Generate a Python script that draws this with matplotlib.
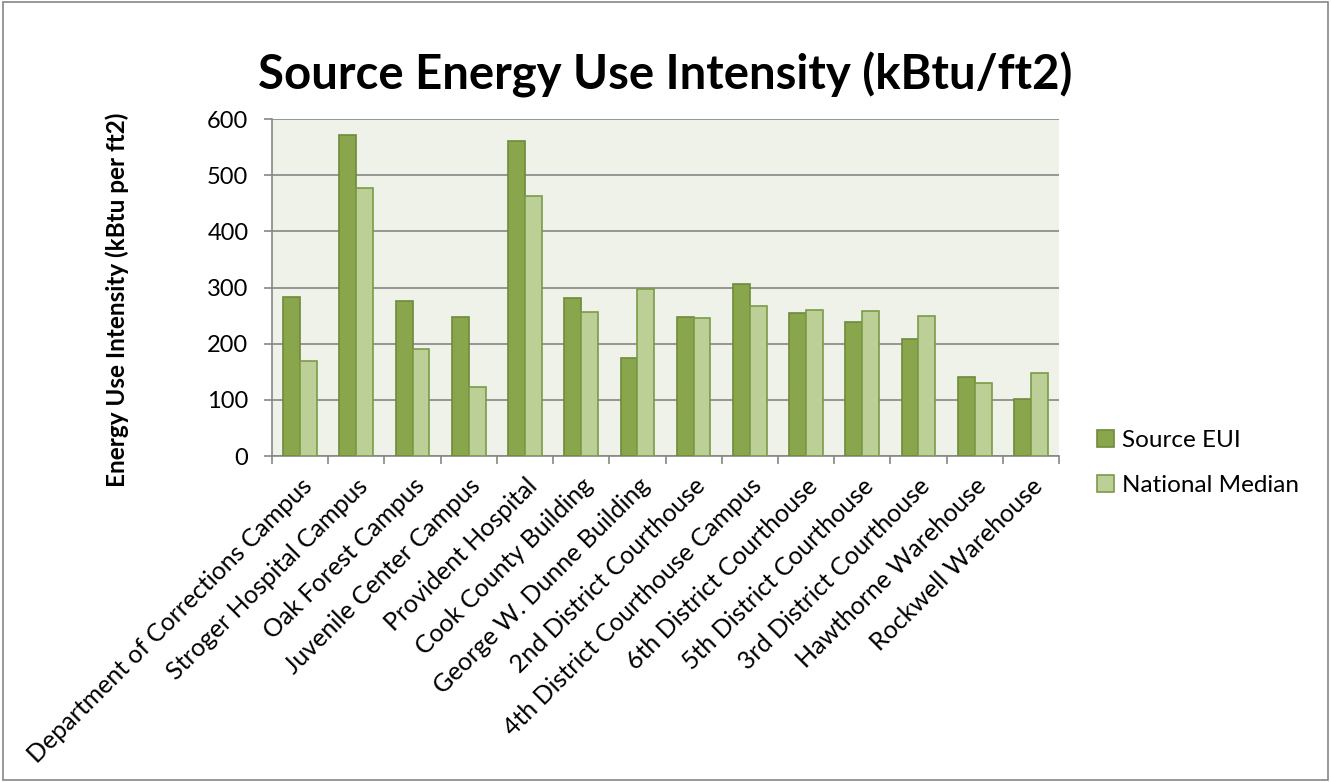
import matplotlib.pyplot as plt
import numpy as np
from matplotlib.patches import Rectangle
from matplotlib.transforms import ScaledTranslation

buildings = ["Department of Corrections Campus", "Stroger Hospital Campus",
             "Oak Forest Campus", "Juvenile Center Campus", "Provident Hospital",
             "Cook County Building", "George W. Dunne Building",
             "2nd District Courthouse", "4th District Courthouse Campus",
             "6th District Courthouse", "5th District Courthouse",
             "3rd District Courthouse", "Hawthorne Warehouse", "Rockwell Warehouse"]
source_eui = [283, 571, 276, 247, 561, 282, 175, 247, 307, 254, 238, 208, 140, 102]
national_median = [170, 478, 191, 123, 463, 257, 298, 246, 267, 260, 259, 250, 130, 147]

plt.rcParams['font.family'] = ['Lato', 'DejaVu Sans']

fig = plt.figure(figsize=(13.31, 7.82), dpi=100)
ax = fig.add_axes([272/1331, 1-456/782, (1059-272)/1331, (456-119)/782])

x = np.arange(len(buildings))
w = 0.3
ax.bar(x - w/2, source_eui, w, color="#8aa64c", edgecolor="#6f8a3a", linewidth=1.2,
       label="Source EUI", zorder=3)
ax.bar(x + w/2, national_median, w, color="#bccf97", edgecolor="#7b9b48", linewidth=1.2,
       label="National Median", zorder=3)

ax.set_facecolor("#eef2e8")
ax.set_xlim(-0.5, len(buildings) - 0.5)
ax.set_ylim(0, 600)
ax.set_yticks(range(0, 601, 100))
ax.yaxis.grid(True, color="#868686", linewidth=1.2, zorder=0)
ax.set_xticks(x)
ax.set_xticklabels(buildings, rotation=45, ha="right", va="top", rotation_mode="anchor",
                   fontsize=18)
# nudge labels so their top-right corner sits just under the category centre
shift = ScaledTranslation(-14/72, -4/72, fig.dpi_scale_trans)
for lbl in ax.get_xticklabels():
    lbl.set_transform(lbl.get_transform() + shift)
ax.tick_params(axis="x", length=0, pad=13)
ax.set_xticks(np.arange(-0.5, len(buildings), 1), minor=True)
ax.tick_params(axis="x", which="minor", length=6, color="#868686", width=1.2)
ax.tick_params(axis="y", length=6, color="#868686", width=1.2, labelsize=17, pad=11)
for s in ["top", "right"]:
    ax.spines[s].set_visible(False)
for s in ["left", "bottom"]:
    ax.spines[s].set_color("#868686")
    ax.spines[s].set_linewidth(1.2)

fig.text(117/1331, 1-300/782, "Energy Use Intensity (kBtu per ft2)", rotation=90,
         ha="center", va="center", fontsize=17.5, fontweight="bold")
fig.text(0.5, 0.904, "Source Energy Use Intensity (kBtu/ft2)", ha="center", va="center",
         fontsize=34, fontweight="bold")

ax.legend(loc="center left", bbox_to_anchor=(1.02, -0.02), frameon=False, fontsize=17.5,
          handlelength=0.7, handleheight=0.7, labelspacing=1.0, handletextpad=0.35)

fig.patches.append(Rectangle((0.002, 0.003), 0.996, 0.994, transform=fig.transFigure,
                             fill=False, edgecolor="#868686", linewidth=1.2))

fig.savefig("out.png", dpi=100)
